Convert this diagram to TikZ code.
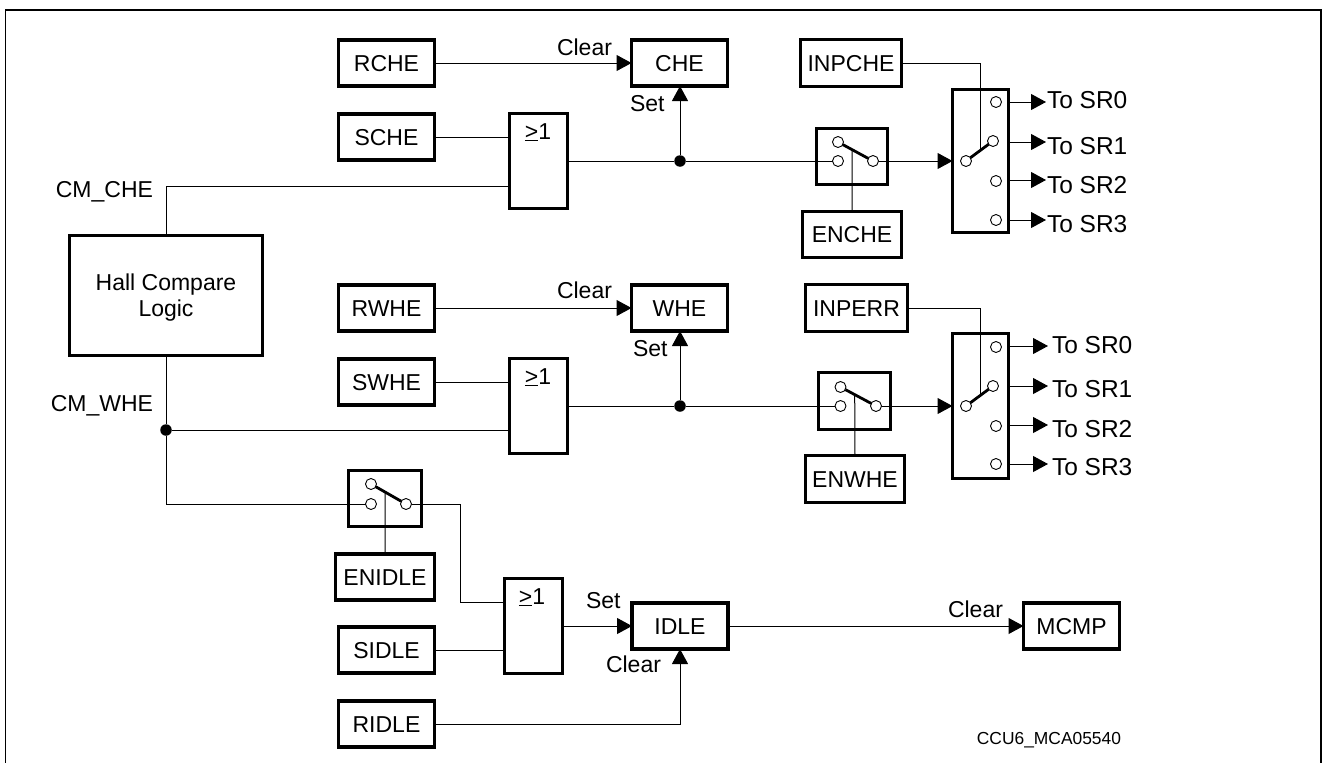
\documentclass[tikz,border=0pt]{standalone}
\usepackage{fontspec}
\setmainfont{Liberation Sans}
\usetikzlibrary{arrows.meta,calc}
\tikzset{
  bx/.style 2 args={draw,line width=3.3pt,minimum width=#1 pt,minimum height=#2 pt,inner sep=0pt,outer sep=0pt,
    font=\fontsize{23}{26}\selectfont,text height=16.5pt,text depth=0pt},
  stdbx/.style={bx={96}{46}},
  hallbx/.style={draw,line width=3.3pt,minimum width=193pt,minimum height=120pt,inner sep=0pt,outer sep=0pt,align=center,
    font=\fontsize{23}{26}\selectfont},
  lbl/.style={inner sep=0pt,outer sep=0pt,font=\fontsize{23}{26}\selectfont,text height=16.5pt,text depth=0pt},
  srlbl/.style={inner sep=0pt,outer sep=0pt,font=\fontsize{24.5}{26}\selectfont,text height=17.5pt,text depth=0pt},
  small/.style={inner sep=0pt,outer sep=0pt,font=\fontsize{17.4}{18}\selectfont,text height=12.5pt,text depth=0pt},
  pin/.style={circle,draw,line width=0.9pt,fill=white,minimum size=11pt,inner sep=0pt,outer sep=0pt},
  jn/.style={circle,fill=black,minimum size=11.5pt,inner sep=0pt,outer sep=0pt},
  wire/.style={line width=1pt},
  arr/.style={line width=1pt,-{Triangle[length=15pt,width=16pt]}},
  lever/.style={line width=2.8pt},
}
\begin{document}
\begin{tikzpicture}[x=1pt,y=-1pt]
\useasboundingbox (0,0) rectangle (1326,763);
\draw[line width=1.3pt] (5.5,763) -- (5.5,10) -- (1321,10) -- (1321,763);

% boxes
\node[stdbx] (rche) at (386.5,63) {RCHE};
\node[stdbx] (sche) at (386.5,137) {SCHE};
\node[stdbx] (rwhe) at (386.5,308) {RWHE};
\node[stdbx] (swhe) at (386.5,382) {SWHE};
\node[bx={99}{46}] (enidle) at (385,577) {ENIDLE};
\node[stdbx] (sidle) at (386.5,650) {SIDLE};
\node[stdbx] (ridle) at (386.5,724) {RIDLE};
\node[stdbx] (che) at (679.5,63) {CHE};
\node[stdbx] (whe) at (679.5,308) {WHE};
\node[stdbx] (idle) at (680,626) {IDLE};
\node[stdbx] (mcmp) at (1071.5,626) {MCMP};
\node[bx={101}{47}] (inpche) at (851,63) {INPCHE};
\node[bx={99}{46}] (enche) at (852,234.5) {ENCHE};
\node[bx={102}{47}] (inperr) at (856.5,308) {INPERR};
\node[bx={99}{47}] (enwhe) at (855,479) {ENWHE};
\node[hallbx] (hall) at (166,295.5) {\rule{0pt}{21pt}Hall Compare\\Logic};

% switches, gates, multiplexers
\node[bx={71}{56}] (sw1) at (852,156.5) {};
\node[bx={72}{57}] (sw2) at (854.5,401) {};
\node[bx={73}{56}] (sw3) at (385,498.5) {};
\node[bx={56}{143}] (mux1) at (980.5,161) {};
\node[bx={56}{145}] (mux2) at (980.5,406) {};
\node[bx={58}{95}] (g1) at (538.5,161) {};
\node[bx={58}{95}] (g2) at (538.5,406) {};
\node[bx={58}{95}] (g3) at (533.5,626) {};
\node[lbl] (g1t) at (538,131) {\underline{>}1};
\node[lbl] (g2t) at (538,376) {\underline{>}1};
\node[lbl] (g3t) at (532,596) {\underline{>}1};

% contacts
\node[pin] (s1a) at (838,142) {};
\node[pin] (s1b) at (838,161) {};
\node[pin] (s1c) at (873,161) {};
\node[pin] (s2a) at (840.5,387) {};
\node[pin] (s2b) at (840.5,406) {};
\node[pin] (s2c) at (876,406) {};
\node[pin] (s3a) at (371,484) {};
\node[pin] (s3b) at (371,504) {};
\node[pin] (s3c) at (406,504) {};
\node[pin] (m1p) at (966,161) {};
\node[pin] (m10) at (996,102) {};
\node[pin] (m11) at (993,141) {};
\node[pin] (m12) at (996,181) {};
\node[pin] (m13) at (996,220) {};
\node[pin] (m2p) at (966,406) {};
\node[pin] (m20) at (996,347) {};
\node[pin] (m21) at (993,386) {};
\node[pin] (m22) at (996,426) {};
\node[pin] (m23) at (996,464) {};

% junctions
\node[jn] (d1) at (680,161) {};
\node[jn] (d2) at (680,406) {};
\node[jn] (d3) at (166,430) {};

% free ends
\coordinate (l1) at ($(s1a)!0.4!(s1c)$);
\coordinate (l2) at ($(s2a)!0.4!(s2c)$);
\coordinate (l3) at ($(s3a)!0.4!(s3c)$);
\coordinate (lm1) at ($(m1p)!0.55!(m11)$);
\coordinate (lm2) at ($(m2p)!0.55!(m21)$);
\coordinate (in1) at (509,186);
\coordinate (in2) at (509,430);
\coordinate (in3) at (504,602);
\coordinate (j3) at (460,504);

% levers
\draw[lever] (s1a) -- (s1c);
\draw[lever] (s2a) -- (s2c);
\draw[lever] (s3a) -- (s3c);
\draw[lever] (m1p) -- (m11);
\draw[lever] (m2p) -- (m21);

% wires
\draw[arr] (rche.east) -- (che.west);
\draw[arr] (rwhe.east) -- (whe.west);
\draw[wire] (sche.east) -- (sche.east -| g1.west);
\draw[wire] (swhe.east) -- (swhe.east -| g2.west);
\draw[wire] (g1.east) -- (d1);
\draw[wire] (g2.east) -- (d2);
\draw[arr] (d1) -- (d1 |- che.south);
\draw[arr] (d2) -- (d2 |- whe.south);
\draw[wire] (d1) -- (s1b);
\draw[wire] (d2) -- (s2b);
\draw[arr] (s1c) -- (mux1.west);
\draw[arr] (s2c) -- (mux2.west);
\draw[wire] (hall.north) |- (in1);
\draw[wire] (hall.south) -- (d3);
\draw[wire] (d3) -- (in2);
\draw[wire] (d3) |- (s3b);
\draw[wire] (s3c) -- (j3) -- (j3 |- in3) -- (in3);
\draw[wire] (sidle.east) -- (sidle.east -| g3.west);
\draw[arr] (g3.east) -- (idle.west);
\draw[arr] (idle.east) -- (mcmp.west);
\draw[arr] (ridle.east) -| (idle.south);
\draw[wire] (enche.north) -- (l1);
\draw[wire] (enwhe.north) -- (l2);
\draw[wire] (enidle.north) -- (l3);
\draw[wire] (inpche.east) -| (lm1);
\draw[wire] (inperr.east) -| (lm2);

% outputs
\coordinate (t10) at (1046,102);
\coordinate (t11) at (1046,142);
\coordinate (t12) at (1046,180);
\coordinate (t13) at (1046,220);
\coordinate (t20) at (1048,346);
\coordinate (t21) at (1048,386);
\coordinate (t22) at (1048,425);
\coordinate (t23) at (1048,464);
\foreach \t in {10,11,12,13,20,21,22,23}
  \draw[arr] (mux1.east |- t\t) -- (t\t);

% labels
\node[srlbl,anchor=west] (a0) at (1047,100) {To SR0};
\node[srlbl,anchor=west] (a1) at (1047,146) {To SR1};
\node[srlbl,anchor=west] (a2) at (1047,185) {To SR2};
\node[srlbl,anchor=west] (a3) at (1047,224) {To SR3};
\node[srlbl,anchor=west] (b0) at (1052,345) {To SR0};
\node[srlbl,anchor=west] (b1) at (1052,389) {To SR1};
\node[srlbl,anchor=west] (b2) at (1052,429) {To SR2};
\node[srlbl,anchor=west] (b3) at (1052,467) {To SR3};
\node[lbl,anchor=west] (c1) at (557,47) {Clear};
\node[lbl,anchor=west] (s1) at (630,103) {Set};
\node[lbl,anchor=west] (c2) at (557,290) {Clear};
\node[lbl,anchor=west] (s2) at (633,348) {Set};
\node[lbl,anchor=west] (s3) at (586,600) {Set};
\node[lbl,anchor=west] (c3) at (606,664) {Clear};
\node[lbl,anchor=west] (c4) at (948,609) {Clear};
\node[lbl,anchor=east] (cmc) at (153,189) {CM\_CHE};
\node[lbl,anchor=east] (cmw) at (153,403) {CM\_WHE};
\node[small,anchor=east] (ref) at (1121,738) {CCU6\_MCA05540};
\end{tikzpicture}
\end{document}
